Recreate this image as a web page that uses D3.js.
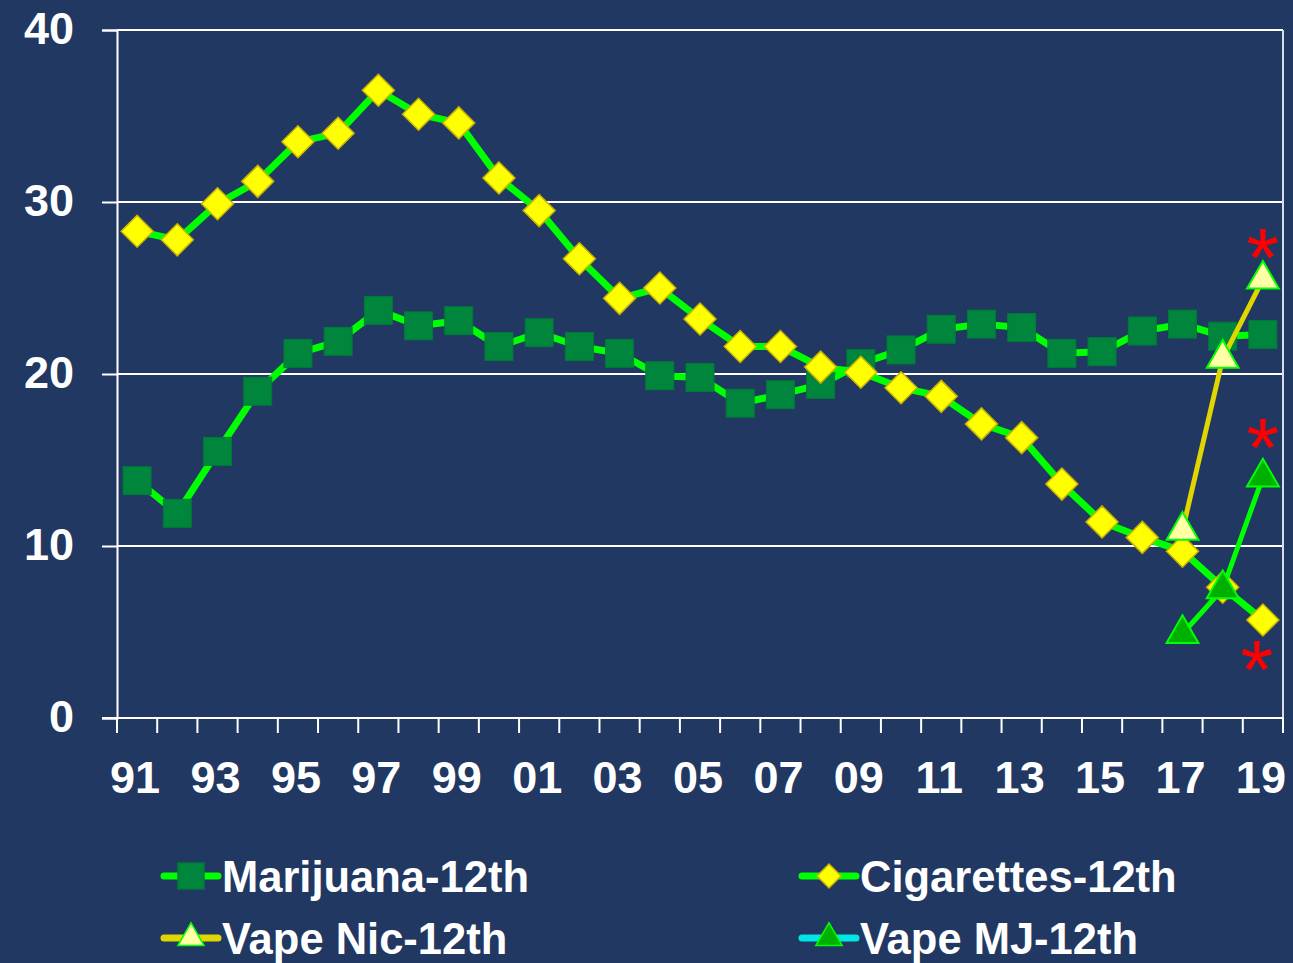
<!DOCTYPE html>
<html>
<head>
<meta charset="utf-8">
<script src="https://cdn.jsdelivr.net/npm/d3@7"></script>
<style>
  body { margin: 0; background: #213862; }
  text { font-family: Arial, "Liberation Sans", sans-serif; font-weight: bold; fill: #fff; }
</style>
</head>
<body>
<div id="chart"></div>
<script>
// years shown on the x axis (two digits)
var years = ["91","92","93","94","95","96","97","98","99","00","01","02","03","04","05","06","07","08","09","10","11","12","13","14","15","16","17","18","19"];
var yTicks = [0, 10, 20, 30, 40];

var marijuana = [13.8, 11.9, 15.5, 19.0, 21.2, 21.9, 23.7, 22.8, 23.1, 21.6, 22.4, 21.6, 21.2, 19.9, 19.8, 18.3, 18.8, 19.4, 20.6, 21.4, 22.6, 22.9, 22.7, 21.2, 21.3, 22.5, 22.9, 22.2, 22.3];
var cigarettes = [28.3, 27.8, 29.9, 31.2, 33.5, 34.0, 36.5, 35.1, 34.6, 31.4, 29.5, 26.7, 24.4, 25.0, 23.2, 21.6, 21.6, 20.4, 20.1, 19.2, 18.7, 17.1, 16.3, 13.6, 11.4, 10.5, 9.7, 7.6, 5.7];
var vapeNicYears = ["17","18","19"];
var vapeNic = [10.9, 20.9, 25.5];
var vapeMJYears = ["17","18","19"];
var vapeMJ = [4.9, 7.5, 14.0];

var W = 1293, H = 963;
var svg = d3.select("#chart").append("svg")
    .attr("width", W)
    .attr("height", H);

svg.append("rect").attr("width", W).attr("height", H).attr("fill", "#213862");

var pLeft = 117, pRight = 1283, pTop = 30, pBottom = 718;

var x = d3.scaleBand().domain(years).range([pLeft, pRight]);
var y = d3.scaleLinear().domain([0, 40]).range([pBottom, pTop]);
function cx(yr) { return x(yr) + x.bandwidth() / 2; }

// grid lines
svg.append("g").selectAll("line").data(yTicks.filter(function(d){ return d > 0; }))
  .enter().append("line")
  .attr("x1", pLeft).attr("x2", pRight)
  .attr("y1", function(d){ return y(d); }).attr("y2", function(d){ return y(d); })
  .attr("stroke", "#ffffff").attr("stroke-width", 2);

// right border
svg.append("line").attr("x1", pRight).attr("x2", pRight).attr("y1", pTop).attr("y2", pBottom)
  .attr("stroke", "#d8dce6").attr("stroke-width", 2);

// y axis
var yAxis = svg.append("g").attr("transform", "translate(" + pLeft + ",0)")
  .call(d3.axisLeft(y).tickValues(yTicks).tickSize(15).tickPadding(28));
yAxis.select(".domain").attr("stroke", "#fff").attr("stroke-width", 2);
yAxis.selectAll(".tick line").attr("stroke", "#fff").attr("stroke-width", 2);
yAxis.selectAll("text").attr("fill", "#fff").attr("font-size", 45)
  .attr("font-family", "Arial, 'Liberation Sans', sans-serif").attr("font-weight", "bold")
  .attr("dy", "0.3em");

// x axis: ticks between categories
var xAxis = svg.append("g").attr("transform", "translate(0," + pBottom + ")");
xAxis.append("line").attr("x1", pLeft - 15).attr("x2", pRight).attr("y1", 0).attr("y2", 0)
  .attr("stroke", "#fff").attr("stroke-width", 2);
xAxis.selectAll(".xt").data(years.concat(["end"])).enter().append("line")
  .attr("class", "xt")
  .attr("x1", function(d, i){ return pLeft + i * x.step(); })
  .attr("x2", function(d, i){ return pLeft + i * x.step(); })
  .attr("y1", 0).attr("y2", 15)
  .attr("stroke", "#fff").attr("stroke-width", 2);
xAxis.selectAll(".xl").data(years.filter(function(d, i){ return i % 2 === 0; })).enter().append("text")
  .attr("class", "xl")
  .attr("x", function(d){ return cx(d) - 2; })
  .attr("y", 75)
  .attr("text-anchor", "middle")
  .attr("font-size", 45)
  .text(function(d){ return d; });

var line = d3.line().x(function(d){ return cx(d[0]); }).y(function(d){ return y(d[1]); });

var marData = d3.zip(years, marijuana);
var cigData = d3.zip(years, cigarettes);
var nicData = d3.zip(vapeNicYears, vapeNic);
var mjData = d3.zip(vapeMJYears, vapeMJ);

var sqSize = 28, diaR = 16, triSize = 440;

// marijuana
svg.append("path").datum(marData).attr("d", line)
  .attr("fill", "none").attr("stroke", "#00ff00").attr("stroke-width", 7).attr("stroke-linejoin", "round");
svg.append("g").selectAll("rect").data(marData).enter().append("rect")
  .attr("x", function(d){ return cx(d[0]) - sqSize / 2; })
  .attr("y", function(d){ return y(d[1]) - sqSize / 2; })
  .attr("width", sqSize).attr("height", sqSize)
  .attr("fill", "#00853d").attr("stroke", "#007a38").attr("stroke-width", 1);

// cigarettes
svg.append("path").datum(cigData).attr("d", line)
  .attr("fill", "none").attr("stroke", "#00ff00").attr("stroke-width", 7).attr("stroke-linejoin", "round");
svg.append("g").selectAll("path").data(cigData).enter().append("path")
  .attr("d", function(d){
    var px = cx(d[0]), py = y(d[1]);
    return "M" + px + "," + (py - diaR) + "L" + (px + diaR) + "," + py + "L" + px + "," + (py + diaR) + "L" + (px - diaR) + "," + py + "Z";
  })
  .attr("fill", "#ffff00").attr("stroke", "#c8b400").attr("stroke-width", 1.5);

var tri = d3.symbol().type(d3.symbolTriangle).size(triSize);

// vape nic
svg.append("path").datum(nicData).attr("d", line)
  .attr("fill", "none").attr("stroke", "#e0d600").attr("stroke-width", 5);
svg.append("g").selectAll("path").data(nicData).enter().append("path")
  .attr("transform", function(d){ return "translate(" + cx(d[0]) + "," + y(d[1]) + ")"; })
  .attr("d", tri)
  .attr("fill", "#ffffa6").attr("stroke", "#00ff00").attr("stroke-width", 2);

// vape MJ
svg.append("path").datum(mjData).attr("d", line)
  .attr("fill", "none").attr("stroke", "#00ff00").attr("stroke-width", 5);
svg.append("g").selectAll("path").data(mjData).enter().append("path")
  .attr("transform", function(d){ return "translate(" + cx(d[0]) + "," + y(d[1]) + ")"; })
  .attr("d", tri)
  .attr("fill", "#00b000").attr("stroke", "#00ff00").attr("stroke-width", 2);

// significance asterisks (offset of star centre from the point)
var stars = [[vapeNic[2], -34, 0], [vapeMJ[2], -42, 0], [cigarettes[28], 37, -6]];
svg.append("g").selectAll("text").data(stars).enter().append("text")
  .attr("x", function(d){ return cx("19") + d[2]; })
  .attr("y", function(d){ return y(d[0]) + d[1] + 42; })
  .attr("text-anchor", "middle")
  .attr("font-size", 84)
  .style("font-weight", "normal")
  .style("fill", "#ff0000")
  .text("*");

// legend
var legend = [
  { name: "Marijuana-12th", x: 162, y: 876, line: "#00ff00", mark: "square", fill: "#00853d", stroke: "#007a38" },
  { name: "Cigarettes-12th", x: 800, y: 876, line: "#00ff00", mark: "diamond", fill: "#ffff00", stroke: "#c8b400" },
  { name: "Vape Nic-12th", x: 162, y: 938, line: "#e0d600", mark: "tri", fill: "#ffffa6", stroke: "#00ff00" },
  { name: "Vape MJ-12th", x: 800, y: 938, line: "#00e5e5", mark: "tri", fill: "#00b000", stroke: "#00ff00" }
];
var lg = svg.append("g").selectAll("g").data(legend).enter().append("g")
  .attr("transform", function(d){ return "translate(" + d.x + "," + d.y + ")"; });
lg.append("line").attr("x1", 2).attr("x2", 56).attr("y1", 0).attr("y2", 0)
  .attr("stroke", function(d){ return d.line; }).attr("stroke-width", 7).attr("stroke-linecap", "round");
lg.append("path")
  .attr("transform", "translate(29,0)")
  .attr("d", function(d){
    if (d.mark === "square") return "M-13,-13h26v26h-26Z";
    if (d.mark === "diamond") return "M0,-12L12,0L0,12L-12,0Z";
    return d3.symbol().type(d3.symbolTriangle).size(300)();
  })
  .attr("fill", function(d){ return d.fill; })
  .attr("stroke", function(d){ return d.stroke; })
  .attr("stroke-width", 1.5);
lg.append("text").attr("x", 60).attr("y", 16)
  .attr("font-size", 43.5)
  .text(function(d){ return d.name; });
</script>
</body>
</html>
